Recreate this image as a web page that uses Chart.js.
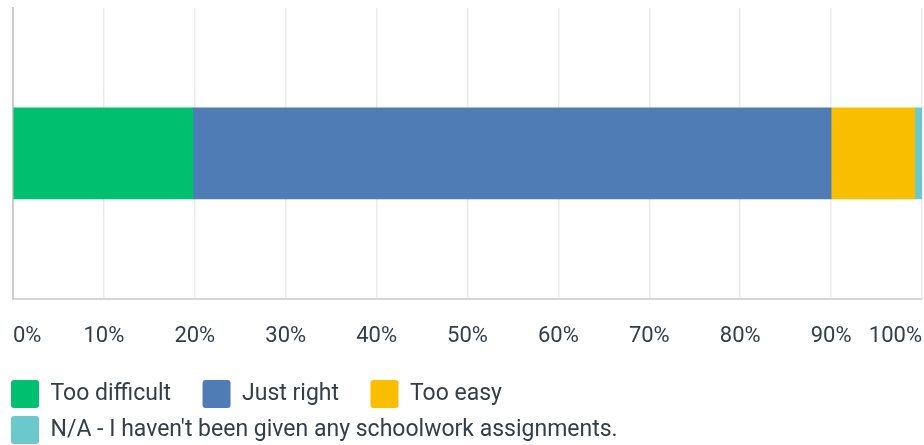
<!DOCTYPE html>
<html>
<head>
<meta charset="utf-8">
<script src="https://cdn.jsdelivr.net/npm/chart.js@4"></script>
<style>
  html, body { margin: 0; padding: 0; background: #fff; }
  #wrap { width: 924px; height: 445px; }
</style>
</head>
<body>
<div id="wrap"><canvas id="chart"></canvas></div>
<script>
const categories = ['']
const seriesNames = ['Too difficult', 'Just right', 'Too easy', "N/A - I haven't been given any schoolwork assignments."]
const tooDifficult = [19.8]
const justRight = [70.2]
const tooEasy = [9.2]
const notApplicable = [0.8]
const seriesColors = ['#00bf6f', '#507cb6', '#f9be00', '#6bc8cd']
const xTicks = [0, 10, 20, 30, 40, 50, 60, 70, 80, 90, 100]

const textColor = '#333e48'

const ctx = document.getElementById('chart').getContext('2d')

const chart = new Chart(ctx, {
    type: 'bar',
    data: {
        labels: categories,
        datasets: [tooDifficult, justRight, tooEasy, notApplicable].map((values, i) => ({
            label: seriesNames[i],
            data: values,
            backgroundColor: seriesColors[i],
            borderWidth: 0,
            barThickness: 91
        }))
    },
    options: {
        indexAxis: 'y',
        responsive: true,
        maintainAspectRatio: false,
        animation: false,
        layout: { padding: { top: 8, left: 3, right: 2, bottom: -9 } },
        scales: {
            x: {
                stacked: true,
                min: 0,
                max: 100,
                afterBuildTicks: scale => { scale.ticks = xTicks.map(v => ({ value: v })) },
                afterFit: scale => { scale.height += 20 },
                grid: { color: '#ebebeb', lineWidth: 1.5, drawTicks: true, tickLength: 23, tickColor: 'rgba(0,0,0,0)' },
                border: { color: '#d6d6d6', width: 2 },
                ticks: {
                    align: 'inner',
                    padding: 2,
                    color: textColor,
                    font: { family: 'Roboto', size: 22 },
                    callback: v => v + '%'
                }
            },
            y: {
                stacked: true,
                grid: { display: false, drawTicks: false },
                border: { color: '#cccccc', width: 2 },
                ticks: { display: false },
                afterFit: scale => { scale.width = 10 }
            }
        },
        plugins: {
            tooltip: { enabled: false },
            legend: {
                position: 'bottom',
                align: 'start',
                labels: {
                    color: textColor,
                    font: { family: 'Roboto', size: 23 },
                    boxWidth: 28,
                    boxHeight: 28,
                    padding: 8,
                    useBorderRadius: true,
                    borderRadius: 3,
                    generateLabels: c => c.data.datasets.map((ds, i) => ({
                        text: ds.label + '\u2003',
                        fillStyle: ds.backgroundColor,
                        strokeStyle: ds.backgroundColor,
                        lineWidth: 0,
                        fontColor: textColor,
                        borderRadius: 3,
                        datasetIndex: i
                    }))
                }
            }
        }
    }
})
</script>
</body>
</html>
